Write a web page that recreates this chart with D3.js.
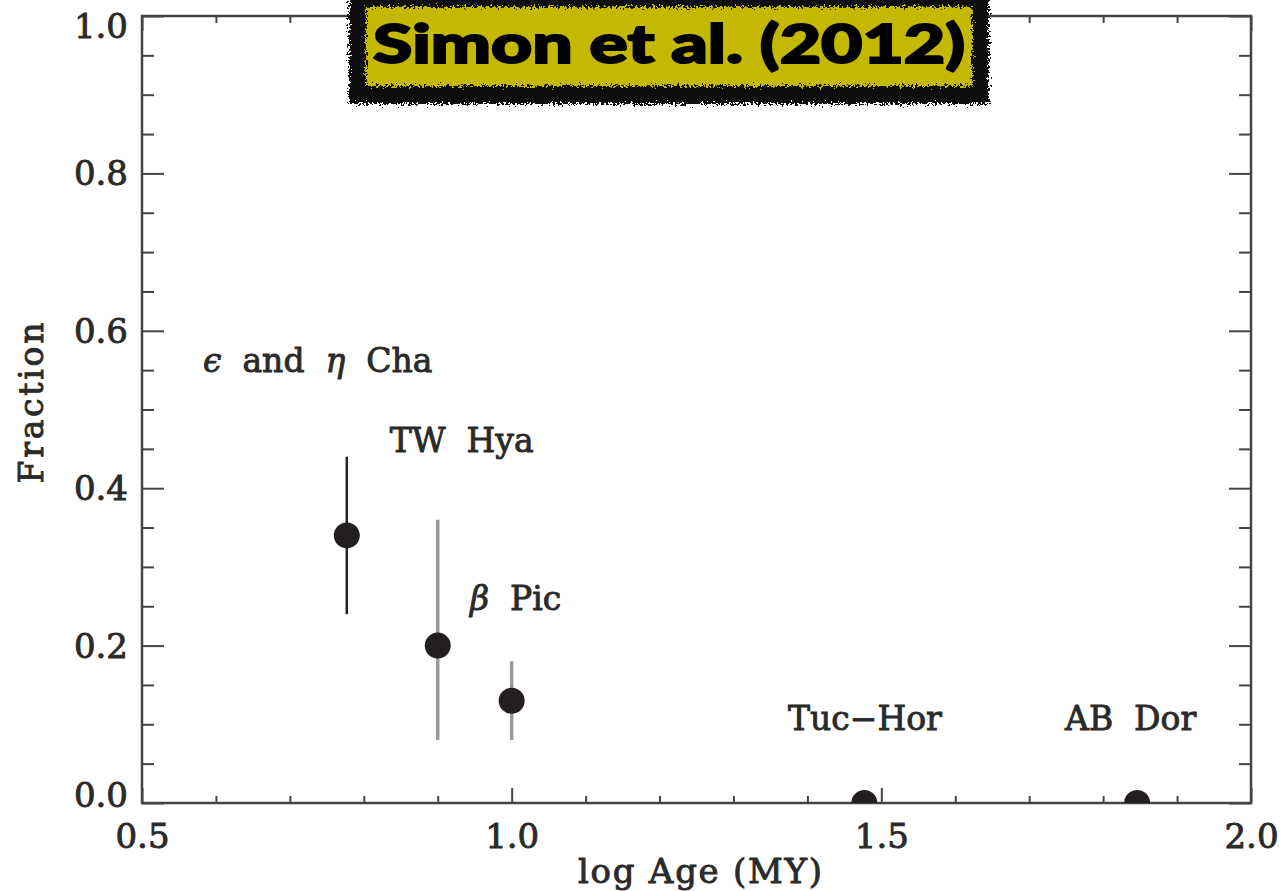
<!DOCTYPE html>
<html>
<head>
<meta charset="utf-8">
<script src="https://cdn.jsdelivr.net/npm/d3@7"></script>
<style>
  body { margin: 0; background: #fff; }
  svg text { font-family: "DejaVu Serif", serif; fill: #2a2a2a; stroke: #2a2a2a; stroke-width: 0.9px; }
</style>
</head>
<body>
<svg id="chart" width="1283" height="891"></svg>
<script>
// data
var groups   = ["eps_eta_Cha", "TW_Hya", "beta_Pic", "Tuc_Hor", "AB_Dor"];
var logAge   = [0.777, 0.90, 1.00, 1.477, 1.846];
var fraction = [0.34, 0.20, 0.13, 0.0, 0.0];
var errLow   = [0.24, 0.08, 0.08, null, null];
var errHigh  = [0.44, 0.36, 0.18, null, null];
var errDark  = [true, false, false, false, false];

// labels: [start x, baseline y] in data units
var labelText = [["ϵ", " and ", "η", " Cha"], ["TW Hya"], ["β", " Pic"], ["Tuc−Hor"], ["AB Dor"]];
var labelX = [0.5825, 0.835, 0.9437, 1.3738, 1.7485];
var labelY = [0.548, 0.446, 0.245, 0.093, 0.093];

var xMajor = [0.5, 1.0, 1.5, 2.0];
var xMinor = d3.range(0.6, 2.0, 0.1).filter(function(d) { return Math.abs(d - 1) > 1e-6 && Math.abs(d - 1.5) > 1e-6; });
var yMajor = [0, 0.2, 0.4, 0.6, 0.8, 1.0];
var yMinor = d3.range(0.05, 1.0, 0.05).filter(function(d) { return Math.abs(d * 5 - Math.round(d * 5)) > 1e-6; });

var svg = d3.select("#chart"),
    margin = { top: 16, right: 32, bottom: 88, left: 142 },
    width = +svg.attr("width") - margin.left - margin.right,
    height = +svg.attr("height") - margin.top - margin.bottom;

var x = d3.scaleLinear().domain([0.5, 2.0]).range([0, width]);
var y = d3.scaleLinear().domain([0, 1]).range([height, 0]);

var g = svg.append("g")
    .attr("transform", "translate(" + margin.left + "," + margin.top + ")");

svg.append("defs").append("clipPath").attr("id", "plotclip")
  .append("rect").attr("width", width).attr("height", height);

// minor ticks
function styleAxis(sel) {
  sel.select(".domain").remove();
  sel.selectAll("line").attr("stroke", "#444").attr("stroke-width", 2);
}
g.append("g").call(d3.axisLeft(y).tickValues(yMinor).tickSize(-12).tickFormat("")).call(styleAxis);
g.append("g").attr("transform", "translate(" + width + ",0)")
  .call(d3.axisRight(y).tickValues(yMinor).tickSize(-12).tickFormat("")).call(styleAxis);
g.append("g").attr("transform", "translate(0," + height + ")")
  .call(d3.axisBottom(x).tickValues(xMinor).tickSize(-7).tickFormat("")).call(styleAxis);
g.append("g")
  .call(d3.axisTop(x).tickValues(xMinor).tickSize(-7).tickFormat("")).call(styleAxis);

// major ticks with labels
var yAxis = g.append("g")
  .call(d3.axisLeft(y).tickValues(yMajor).tickSize(-22).tickPadding(14).tickFormat(d3.format(".1f")))
  .call(styleAxis);
yAxis.selectAll("text").attr("font-size", 34).attr("fill", null)
  .attr("dy", function(d) { return d === 1 ? "0.62em" : d === 0 ? "0.1em" : "0.34em"; });

g.append("g").attr("transform", "translate(" + width + ",0)")
  .call(d3.axisRight(y).tickValues(yMajor).tickSize(-22).tickFormat("")).call(styleAxis);

var xAxis = g.append("g").attr("transform", "translate(0," + height + ")")
  .call(d3.axisBottom(x).tickValues(xMajor).tickSize(-15).tickFormat(d3.format(".1f")))
  .call(styleAxis);
xAxis.selectAll("text").attr("font-size", 34).attr("fill", null).attr("y", 45).attr("dy", 0);

g.append("g")
  .call(d3.axisTop(x).tickValues(xMajor).tickSize(-15).tickFormat("")).call(styleAxis);

// frame
g.append("rect")
  .attr("width", width).attr("height", height)
  .attr("fill", "none").attr("stroke", "#444").attr("stroke-width", 2.5);

// axis titles
g.append("text")
  .attr("x", 700 - margin.left).attr("y", height + 80)
  .attr("text-anchor", "middle").attr("font-size", 34)
  .attr("textLength", 244).attr("lengthAdjust", "spacing")
  .text("log Age (MY)");

g.append("text")
  .attr("transform", "translate(" + (43 - margin.left) + "," + (403 - margin.top) + ") rotate(-90)")
  .attr("text-anchor", "middle").attr("font-size", 33)
  .attr("textLength", 161).attr("lengthAdjust", "spacing")
  .text("Fraction");

// points
var pts = groups.map(function(k, i) {
  return { name: k, x: logAge[i], y: fraction[i], lo: errLow[i], hi: errHigh[i], dark: errDark[i] };
});

var plot = g.append("g").attr("clip-path", "url(#plotclip)");

plot.selectAll(".err")
    .data(pts.filter(function(d) { return d.lo !== null; }))
  .enter().append("line")
    .attr("class", "err")
    .attr("x1", function(d) { return x(d.x); })
    .attr("x2", function(d) { return x(d.x); })
    .attr("y1", function(d) { return y(d.lo); })
    .attr("y2", function(d) { return y(d.hi); })
    .attr("stroke", function(d) { return d.dark ? "#222" : "#9a9a9a"; })
    .attr("stroke-width", function(d) { return d.dark ? 2.5 : 3.5; });

plot.selectAll(".dot")
    .data(pts)
  .enter().append("circle")
    .attr("class", "dot")
    .attr("cx", function(d) { return x(d.x); })
    .attr("cy", function(d) { return y(d.y); })
    .attr("r", 13)
    .attr("fill", "#231f20");

// labels
var lab = g.selectAll(".lab")
    .data(labelText)
  .enter().append("text")
    .attr("class", "lab")
    .attr("x", function(d, i) { return x(labelX[i]); })
    .attr("y", function(d, i) { return y(labelY[i]); })
    .attr("font-size", 33)
    .attr("xml:space", "preserve")
    .style("white-space", "pre");

lab.each(function(parts) {
  var t = d3.select(this);
  parts.forEach(function(p) {
    var greek = /[ϵηβ]/.test(p);
    t.append("tspan")
      .style("font-style", greek ? "italic" : "normal")
      .text(greek ? p : p.replace(/ /g, "  "));
  });
});

// title box with ragged edge
var defs = svg.select("defs");
var rough = defs.append("filter").attr("id", "rough")
    .attr("x", "-5%").attr("y", "-20%").attr("width", "110%").attr("height", "140%");
rough.append("feTurbulence").attr("type", "fractalNoise").attr("baseFrequency", 0.45)
    .attr("numOctaves", 3).attr("seed", 4).attr("result", "noise");
rough.append("feDisplacementMap").attr("in", "SourceGraphic").attr("in2", "noise")
    .attr("scale", 12).attr("xChannelSelector", "R").attr("yChannelSelector", "G");

var title = svg.append("g");
title.append("rect")
  .attr("x", 349).attr("y", -6).attr("width", 640).attr("height", 110)
  .attr("fill", "#0a0a0a").attr("filter", "url(#rough)");
title.append("rect")
  .attr("x", 366).attr("y", 7).attr("width", 606).attr("height", 79)
  .attr("fill", "#c4b800").attr("filter", "url(#rough)");
title.append("text")
  .attr("x", 373).attr("y", 63)
  .attr("textLength", 592).attr("lengthAdjust", "spacingAndGlyphs")
  .style("font-family", "Lato, 'Open Sans', sans-serif")
  .style("font-weight", 900).style("fill", "#000").style("stroke", "#000").style("stroke-width", "2px")
  .attr("font-size", 54)
  .text("Simon et al. (2012)");
</script>
</body>
</html>
